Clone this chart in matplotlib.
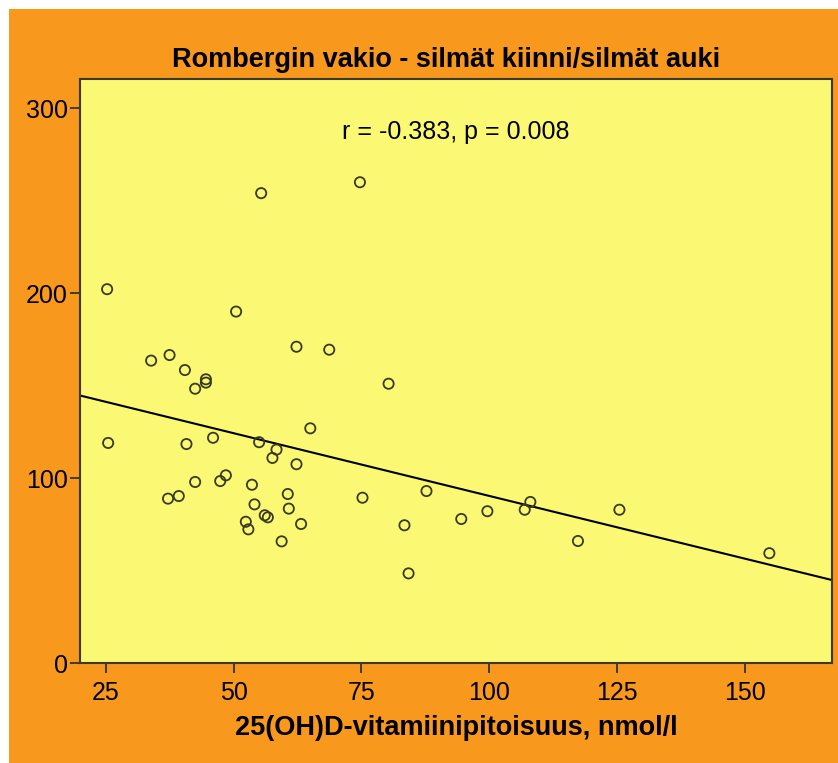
import matplotlib
matplotlib.use("Agg")
import matplotlib.pyplot as plt
import matplotlib.patches as mpatches
import numpy as np

# 25(OH)D-vitamiini (nmol/l) ja Rombergin vakio
vit_d = [55.4, 74.7, 25.3, 50.5, 33.9, 37.5, 40.5, 44.6, 44.6, 42.5,
         62.3, 68.7, 80.3, 25.5, 40.8, 46.0, 55.0, 58.4, 57.6, 62.3,
         65.0, 48.5, 47.4, 42.5, 53.6, 37.2, 39.3, 60.6, 54.1, 75.2,
         60.8, 56.1, 56.7, 52.4, 52.9, 63.2, 59.4, 83.4, 84.2, 87.7,
         94.5, 99.6, 106.9, 108.0, 125.4, 117.3, 154.7]
romberg = [254.1, 260.0, 202.2, 190.1, 163.6, 166.6, 158.5, 153.5, 151.7, 148.4,
           171.1, 169.5, 151.1, 119.1, 118.5, 121.9, 119.5, 115.5, 111.0, 107.6,
           127.0, 101.6, 98.5, 98.0, 96.5, 89.0, 90.4, 91.5, 85.9, 89.5,
           83.6, 80.0, 78.9, 76.5, 72.4, 75.3, 65.9, 74.6, 48.6, 93.1,
           78.0, 82.2, 83.0, 87.2, 83.0, 66.1, 59.5]

title = "Rombergin vakio - silmät kiinni/silmät auki"
x_label = "25(OH)D-vitamiinipitoisuus, nmol/l"
stats_text = "r = -0.383, p = 0.008"
x_ticks = [25, 50, 75, 100, 125, 150]
y_ticks = [0, 100, 200, 300]

orange = "#F8981D"
yellow = "#FBF874"

W, H = 838, 763
fig = plt.figure(figsize=(W / 100, H / 100), dpi=100, facecolor="white")

# oranssi tausta (pieni valkoinen reuna ylhäällä ja vasemmalla)
bg = mpatches.Rectangle((9 / W, 0), 1 - 9 / W, 1 - 9 / H,
                        transform=fig.transFigure,
                        facecolor=orange, edgecolor="none", zorder=-10)
fig.add_artist(bg)

ax = fig.add_axes([80 / W, (H - 663.3) / H, (832.3 - 80) / W, (663.3 - 79) / H])
ax.set_zorder(1)
ax.set_facecolor(yellow)

x = np.array(vit_d)
y = np.array(romberg)
ax.scatter(x, y, s=54, facecolors="none", edgecolors="#3a3a22", linewidths=1.3, zorder=3)

# regressiosuora
slope, intercept = np.polyfit(x, y, 1)
xs = np.array([20, 167])
ax.plot(xs, intercept + slope * xs, color="black", linewidth=1.5, zorder=2)

ax.set_xlim(20, 167)
ax.set_ylim(0, 315.8)
ax.set_xticks(x_ticks)
ax.set_yticks(y_ticks)

font = "Liberation Sans"
for lab in ax.get_xticklabels() + ax.get_yticklabels():
    lab.set_fontfamily(font)
    lab.set_fontsize(18)
ax.tick_params(axis="both", direction="out", length=7, width=1.3, color="#333333")
ax.tick_params(axis="x", pad=6)
ax.tick_params(axis="y", pad=2)

for sp in ax.spines.values():
    sp.set_color("#3a3a30")
    sp.set_linewidth(1.5)

ax.text(0.5, (663.3 - 131.5) / (663.3 - 79), stats_text, transform=ax.transAxes,
        ha="center", va="center", fontsize=18, family=font)

fig.text(446 / W, 1 - 60 / H, title, ha="center", va="center",
         fontsize=19.5, fontweight="bold", family=font)
fig.text(456 / W, 1 - 728 / H, x_label, ha="center", va="center",
         fontsize=19.5, fontweight="bold", family=font)

fig.savefig("out.png", dpi=100, facecolor=fig.get_facecolor())
